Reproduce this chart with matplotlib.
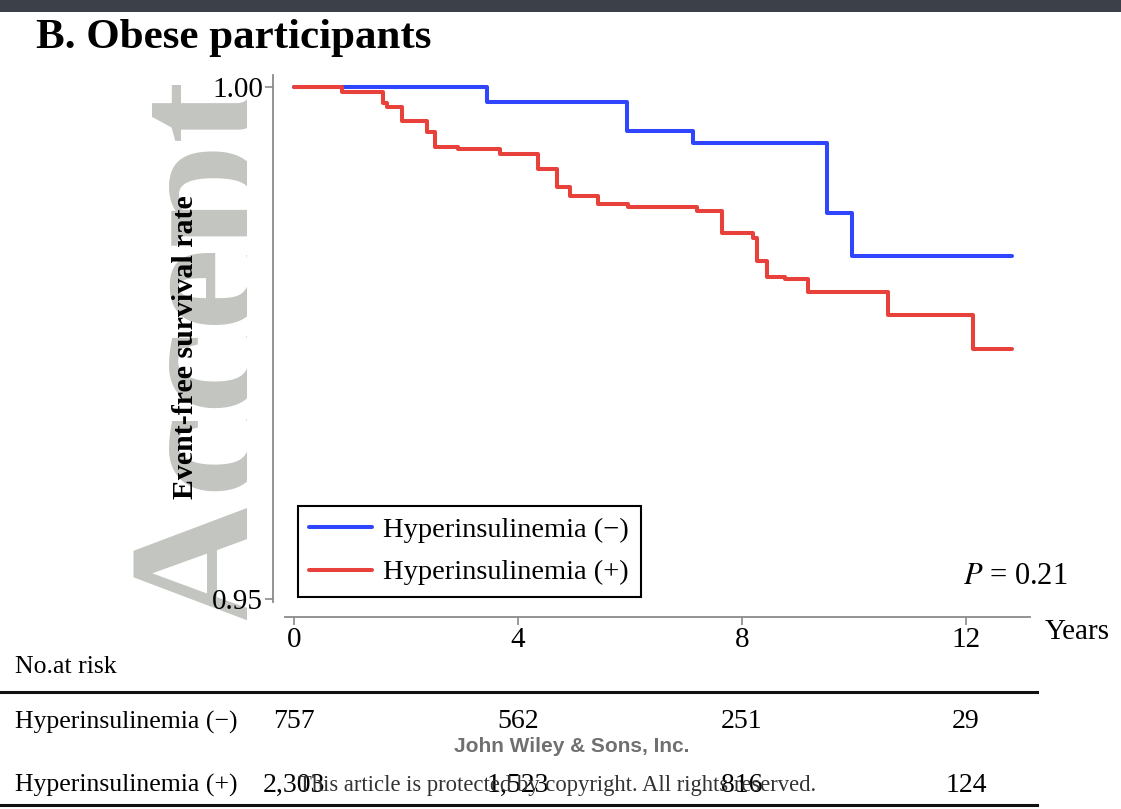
import matplotlib
matplotlib.use("Agg")
import matplotlib.pyplot as plt
from matplotlib.lines import Line2D
from matplotlib.patches import Rectangle
import matplotlib.transforms as mtransforms

plt.rcParams['font.family'] = ['Liberation Serif', 'DejaVu Serif']
plt.rcParams['mathtext.fontset'] = 'stix'

# ---- data ----
title = "B. Obese participants"
series_labels = ["Hyperinsulinemia (\u2212)", "Hyperinsulinemia (+)"]
neg_time = [0, 3.44, 5.94, 7.12, 9.52, 9.96, 12.82]
neg_surv = [1.0, 0.99851, 0.99570, 0.99450, 0.98767, 0.98353, 0.98353]
pos_time = [0, 0.85, 1.59, 1.66, 1.92, 2.37, 2.52, 2.93, 3.68, 4.36, 4.69, 4.93,
            5.43, 5.97, 7.19, 7.64, 8.20, 8.27, 8.45, 8.77, 9.18, 10.61, 12.13, 12.82]
pos_surv = [1.0, 0.99948, 0.99841, 0.99808, 0.99671, 0.99563, 0.99411, 0.99392,
            0.99343, 0.99196, 0.99026, 0.98938, 0.98854, 0.98831, 0.98792, 0.98571,
            0.98522, 0.98303, 0.98141, 0.98125, 0.97995, 0.97773, 0.97441, 0.97441]
xticks = [0, 4, 8, 12]
yticks = [0.95, 1.00]
ytick_labels = ["0.95", "1.00"]
risk_times = [0, 4, 8, 12]
risk_neg = ["757", "562", "251", "29"]
risk_pos = ["2,303", "1,523", "816", "124"]
p_text = "$P$ = 0.21"

W, H = 1121, 809
fig = plt.figure(figsize=(W / 100, H / 100), dpi=100)
fig.patch.set_facecolor('white')

def fx(px):
    return px / W

def fy(py):
    return 1 - py / H

# dark band on top
fig.add_artist(Rectangle((0, fy(12)), 1, 12 / H, transform=fig.transFigure,
                         facecolor='#3c4049', edgecolor='none', zorder=5))

# watermark
wm = fig.text(fx(257), fy(630), "Accept", rotation=90, fontsize=135,
              fontweight='bold', color='#c3c5c0', ha='left', va='baseline',
              zorder=-1, rotation_mode='anchor')
clip = Rectangle((0, 0), fx(247), 1, transform=fig.transFigure)
wm.set_clip_path(clip)
wm.set_clip_on(True)

ax = fig.add_axes([fx(273), fy(617), fx(1030) - fx(273), (617 - 75) / H])
ax.set_facecolor('none')
ax.step(neg_time, neg_surv, where='post', color='#2f45ff', lw=2.9,
        label=series_labels[0], solid_capstyle='round')
ax.step(pos_time, pos_surv, where='post', color='#e8413b', lw=2.9,
        label=series_labels[1], solid_capstyle='round')

x0 = -(294 - 273) / 56.0
x1 = (1030 - 294) / 56.0
ax.set_xlim(x0, x1)
ytop = 1.0 + (87 - 75) / 10240
ybot = 0.95 - (617 - 599) / 10240
ax.set_ylim(ybot, ytop)

for s in ['top', 'right']:
    ax.spines[s].set_visible(False)
ax.spines['left'].set_color('#8a8a8a')
ax.spines['bottom'].set_color('#8a8a8a')
ax.spines['left'].set_linewidth(1.3)
ax.spines['bottom'].set_linewidth(1.3)
ax.spines['left'].set_bounds(0.95 - 3 / 10240, ytop)
ax.spines['bottom'].set_bounds(-(294 - 285) / 56.0, x1)

ax.set_xticks(xticks)
ax.set_xticklabels([str(t) for t in xticks])
ax.set_yticks(yticks)
ax.set_yticklabels(ytick_labels)
ax.tick_params(axis='both', colors='#8a8a8a', labelcolor='black', length=6,
               width=1.2, labelsize=21)
ax.tick_params(axis='x', pad=1)
ax.tick_params(axis='y', pad=1)

ax.set_ylabel("Event-free survival rate", fontsize=21.5, fontweight='bold',
              labelpad=0)
ax.yaxis.set_label_coords((199 - 273) / (1030 - 273), (617 - 347) / (617 - 75))

leg = ax.legend(loc='upper left', bbox_to_anchor=(fx(298), fy(506)),
                bbox_transform=fig.transFigure, fontsize=20.5, frameon=True,
                fancybox=False, framealpha=1, edgecolor='black',
                borderaxespad=0, handlelength=2.2, handletextpad=0.4,
                labelspacing=0.57, borderpad=0.4)
leg.get_frame().set_linewidth(1.5)

fig.text(fx(1068), fy(577), p_text, fontsize=22, ha='right', va='center')
fig.text(fx(1045), fy(632), "Years", fontsize=21, ha='left', va='center')
fig.text(fx(36), fy(38), title, fontsize=31, fontweight='bold', ha='left',
         va='center')

# number at risk table
fig.text(fx(15), fy(667), "No.at risk", fontsize=18.5, ha='left', va='center')
fig.add_artist(Line2D([0, fx(1037)], [fy(692), fy(692)], color='#111111', lw=2.2,
                      transform=fig.transFigure))
fig.add_artist(Line2D([0, fx(1037)], [fy(805), fy(805)], color='#111111', lw=2.2,
                      transform=fig.transFigure))
fig.text(fx(15), fy(722), series_labels[0], fontsize=18.5, ha='left', va='center')
fig.text(fx(15), fy(785), series_labels[1], fontsize=18.5, ha='left', va='center')
blend = mtransforms.blended_transform_factory(ax.transData, fig.transFigure)
for t, a, b in zip(risk_times, risk_neg, risk_pos):
    fig.text(t, fy(722), a, transform=blend, fontsize=20, ha='center', va='center')
    fig.text(t, fy(785), b, transform=blend, fontsize=20, ha='center', va='center')

fig.text(fx(572), fy(746), "John Wiley & Sons, Inc.", fontsize=15,
         fontweight='bold', family=['Liberation Sans', 'DejaVu Sans'],
         color='#707070', ha='center', va='center')
fig.text(fx(298), fy(785), "This article is protected by copyright. All rights reserved.",
         fontsize=16.3, color='#333333', ha='left', va='center')

fig.savefig("out.png", dpi=100)
